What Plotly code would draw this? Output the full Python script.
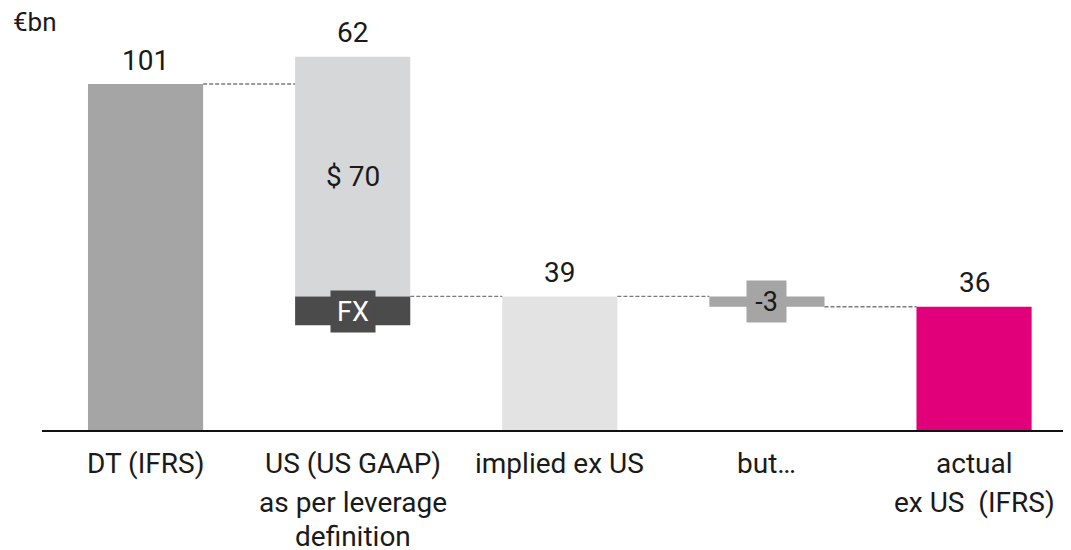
import plotly.graph_objects as go

# ---- data ----
category_lines = [
    ["DT (IFRS)"],
    ["US (US GAAP)", "as per leverage", "definition"],
    ["implied ex US"],
    ["but…"],
    ["actual", "ex US  (IFRS)"],
]
dt_total = 101          # € bn
us_eur = 62             # € bn (label)
us_usd = 70             # $ bn (label inside bar)
fx_effect = 8.4         # dark FX band (estimated)
implied_ex_us = 39      # € bn
adjustment = -3         # € bn
actual_ex_us = 36       # € bn
value_labels = ["101", "62", "39", None, "36"]

# ---- style ----
FONT = "Roboto, 'Open Sans', Arial, sans-serif"
TXT = "#1a1a1a"
BW = 0.556
c_dt, c_us, c_fx, c_imp, c_but, c_act = "#a5a5a5", "#d6d7d9", "#4b4b4b", "#e3e3e3", "#a5a5a5", "#e2007a"

fig = go.Figure()

fig.add_bar(x=[0], y=[dt_total], base=[0], width=BW, marker_color=c_dt, marker_line_width=0)
fig.add_bar(x=[1], y=[us_usd], base=[implied_ex_us], width=BW, marker_color=c_us, marker_line_width=0)
fig.add_bar(x=[1], y=[fx_effect], base=[implied_ex_us - fx_effect], width=BW, marker_color=c_fx, marker_line_width=0)
fig.add_bar(x=[2], y=[implied_ex_us], base=[0], width=BW, marker_color=c_imp, marker_line_width=0)
fig.add_bar(x=[3], y=[adjustment], base=[implied_ex_us], width=BW, marker_color=c_but, marker_line_width=0)
fig.add_bar(x=[4], y=[actual_ex_us], base=[0], width=BW, marker_color=c_act, marker_line_width=0)

# connectors
h = BW / 2
conn = [
    (0, 1, dt_total),
    (1, 2, implied_ex_us),
    (2, 3, implied_ex_us),
    (3, 4, implied_ex_us + adjustment),
]
for a, b, lvl in conn:
    fig.add_scatter(x=[a + h, b - h], y=[lvl, lvl], mode="lines",
                    line=dict(color="#7a7a7a", width=1.4, dash="4px,2px"),
                    hoverinfo="skip")

fig.update_layout(barmode="overlay", showlegend=False)

annotations = []
tops = [dt_total, implied_ex_us + us_usd, implied_ex_us, None, actual_ex_us]
for i, (lab, top) in enumerate(zip(value_labels, tops)):
    if lab is None:
        continue
    annotations.append(dict(x=i, y=top, text=lab, showarrow=False, yanchor="middle",
                            yshift=24, font=dict(size=28, color=TXT, family=FONT)))
annotations.append(dict(x=1, y=implied_ex_us + us_usd / 2, text=f"$ {us_usd}", showarrow=False,
                        font=dict(size=28, color=TXT, family=FONT)))
annotations.append(dict(x=1, y=implied_ex_us - fx_effect / 2, text="FX", showarrow=False,
                        width=42, height=39, bgcolor=c_fx, yshift=-1,
                        font=dict(size=27, color="white", family=FONT)))
annotations.append(dict(x=3, y=implied_ex_us + adjustment / 2, text=str(adjustment), showarrow=False,
                        width=37, height=39, bgcolor=c_but,
                        font=dict(size=27, color=TXT, family=FONT)))
annotations.append(dict(x=-0.5, y=1, xref="x", yref="paper", text="€bn", showarrow=False,
                        xanchor="left", yanchor="top", xshift=-31, height=24,
                        font=dict(size=26, color=TXT, family=FONT)))
shifts = [-33, -72, -106]
for i, lines in enumerate(category_lines):
    for j, line in enumerate(lines):
        annotations.append(dict(x=i, y=0, text=line, showarrow=False, yanchor="middle",
                                yshift=shifts[j],
                                font=dict(size=28, color=TXT, family=FONT)))

# page body has an 8px margin -> figure is 8px smaller and offset
fig.update_layout(
    width=1063, height=542,
    margin=dict(l=34, r=0, t=0, b=120),
    paper_bgcolor="white", plot_bgcolor="white",
    annotations=annotations,
    xaxis=dict(range=[-0.5, 4.468], showgrid=False, zeroline=False, showticklabels=False,
               ticks="", showline=True, linecolor="#111", linewidth=2, fixedrange=True),
    yaxis=dict(range=[0, 123.2], showgrid=False, zeroline=False, showticklabels=False,
               ticks="", showline=False, fixedrange=True),
)

fig.write_html("out.html")
